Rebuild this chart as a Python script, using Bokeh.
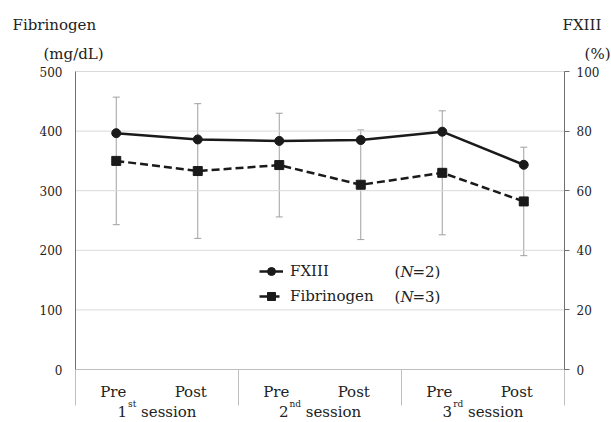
from bokeh.plotting import figure
from bokeh.models import (Range1d, LinearAxis, FixedTicker, Whisker, TeeHead,
                          ColumnDataSource, Legend, LegendItem)
from bokeh.core.properties import value
from bokeh.embed import file_html
from bokeh.resources import INLINE

# ---------------- data ----------------
session_numbers = ["1", "2", "3"]
session_suffixes = ["st", "nd", "rd"]
session_word = "session"
phases = ["Pre", "Post"]
fibrinogen = [350, 333, 343, 310, 330, 282]        # mg/dL (left axis)
fibrinogen_sd = [107, 113, 87, 92, 104, 91]        # error bars
fxiii = [79.3, 77.2, 76.7, 77.0, 79.8, 68.7]        # % (right axis)
left_ticks = [0, 100, 200, 300, 400, 500]
right_ticks = [0, 20, 40, 60, 80, 100]
legend_names = ["FXIII", "Fibrinogen"]
legend_n = ["2", "3"]

# ---------------- style / layout (pixels) ----------------
FONT = "DejaVu Serif"
INK = "#1a1a1a"
TXT = "#222222"
AXIS = "#707070"
LIGHT = "#bfbfbf"
GRID = "#d9d9d9"
ERR = "#a0a0a0"
W, H = 611, 422
AX_LEFT_PX, CAT_PX = 75, 81.5          # left axis position, category width
TOP_PX, ZERO_PX = 71, 369              # pixel rows of 500 and 0
ppu = (ZERO_PX - TOP_PX) / left_ticks[-1]
ratio = right_ticks[-1] / left_ticks[-1]

n_cat = len(session_numbers) * len(phases)
xs = [i + 0.5 for i in range(n_cat)]
phase_labels = phases * len(session_numbers)

x_lo = -AX_LEFT_PX / CAT_PX
x_hi = (W - AX_LEFT_PX) / CAT_PX
y_lo = -(H - ZERO_PX) / ppu
y_hi = left_ticks[-1] + TOP_PX / ppu

p = figure(width=W, height=H, x_range=Range1d(x_lo, x_hi), y_range=Range1d(y_lo, y_hi),
           x_axis_location=None, output_backend="svg", toolbar_location=None,
           min_border=0, min_border_left=0, min_border_right=0,
           min_border_top=0, min_border_bottom=0,
           outline_line_color=None, background_fill_color="white",
           border_fill_color="white")
p.extra_y_ranges = {"pct": Range1d(y_lo * ratio, y_hi * ratio)}
p.xgrid.grid_line_color = None
p.ygrid.grid_line_color = None

# gridlines between the two axes, and the category axis line at 0
p.segment(x0=[0] * (len(left_ticks) - 1), y0=left_ticks[1:],
          x1=[n_cat] * (len(left_ticks) - 1), y1=left_ticks[1:],
          line_color=GRID, line_width=1)
p.segment(x0=[0], y0=[left_ticks[0]], x1=[n_cat], y1=[left_ticks[0]],
          line_color=LIGHT, line_width=1)

# session separators below the category axis
sep_len = 36 / ppu
bounds_x = [2 * k for k in range(len(session_numbers) + 1)]
p.segment(x0=bounds_x, y0=[0] * len(bounds_x), x1=bounds_x,
          y1=[-sep_len] * len(bounds_x), line_color=LIGHT, line_width=1)

# left axis (mg/dL)
ya = p.yaxis[0]
ya.fixed_location = 0
ya.ticker = FixedTicker(ticks=left_ticks)
ya.bounds = (left_ticks[0], left_ticks[-1])
ya.axis_line_color = AXIS
ya.major_tick_out = 0
ya.major_tick_in = 0
ya.minor_tick_line_color = None
ya.major_label_standoff = 13
ya.major_label_text_font = FONT
ya.major_label_text_font_size = "12px"
ya.major_label_text_color = TXT

# right axis (%)
ra = LinearAxis(y_range_name="pct", ticker=FixedTicker(ticks=right_ticks),
                bounds=(right_ticks[0], right_ticks[-1]), fixed_location=n_cat)
ra.axis_line_color = AXIS
ra.major_tick_line_color = AXIS
ra.major_tick_out = 5
ra.major_tick_in = 0
ra.minor_tick_line_color = None
ra.major_label_standoff = 7
ra.major_label_text_font = FONT
ra.major_label_text_font_size = "12px"
ra.major_label_text_color = TXT
p.add_layout(ra, "right")

# error bars (fibrinogen)
err_src = ColumnDataSource(dict(
    x=xs,
    upper=[f + s for f, s in zip(fibrinogen, fibrinogen_sd)],
    lower=[f - s for f, s in zip(fibrinogen, fibrinogen_sd)]))
wh = Whisker(source=err_src, base="x", upper="upper", lower="lower",
             line_color=ERR, line_width=1, level="underlay",
             upper_head=TeeHead(size=7, line_color=ERR, line_width=1),
             lower_head=TeeHead(size=7, line_color=ERR, line_width=1))
p.add_layout(wh)

# series
fx_line = p.line(xs, fxiii, y_range_name="pct", line_color=INK, line_width=2.5)
fx_pts = p.scatter(xs, fxiii, y_range_name="pct", marker="circle", size=9,
                   fill_color=INK, line_color=INK)
fib_line = p.line(xs, fibrinogen, line_color=INK, line_width=2.5, line_dash="8 4")
fib_pts = p.scatter(xs, fibrinogen, marker="square", size=9,
                    fill_color=INK, line_color=INK)

# category labels (Pre / Post)
phase_off = {"Pre": -3, "Post": -7}
p.text(x=xs, y=[0] * n_cat, text=phase_labels,
       x_offset=[phase_off[t] for t in phase_labels], y_offset=22,
       text_font=value(FONT), text_font_size="15px", text_color=TXT,
       text_align="center", text_baseline="alphabetic")

# session labels: number, superscript suffix, word
em = {"s": .513, "t": .402, "n": .640, "d": .640, "r": .478}
MAIN, SUP = 15, 9
DIGIT, SPACE, WORD = 0.636, 0.318, 3.693
sx, stext, ssize, soff, syoff = [], [], [], [], []
for k, (num, suf) in enumerate(zip(session_numbers, session_suffixes)):
    c = 2 * k + 1
    wsup = sum(em[ch] for ch in suf) * SUP
    total = DIGIT * MAIN + 1 + wsup + SPACE * MAIN + WORD * MAIN
    n0 = -total / 2
    for t, size, off, yo in [(num, MAIN, n0, 42),
                             (suf, SUP, n0 + DIGIT * MAIN + 1, 34),
                             (session_word, MAIN, n0 + DIGIT * MAIN + 1 + wsup + SPACE * MAIN, 42)]:
        sx.append(c); stext.append(t)
        ssize.append(f"{size}px"); soff.append(off); syoff.append(yo)
p.text(x=sx, y=[0] * len(sx), text=stext, x_offset=soff, y_offset=syoff,
       text_font=value(FONT), text_font_size=ssize, text_color=TXT,
       text_align="left", text_baseline="alphabetic")

# legend
LEG_LEFT, LEG_TOP, ROW_H, ROW_GAP = 259, 261, 20, 5
leg_h = len(legend_names) * ROW_H + (len(legend_names) - 1) * ROW_GAP
legend = Legend(items=[LegendItem(label=legend_names[0], renderers=[fx_line, fx_pts]),
                       LegendItem(label=legend_names[1], renderers=[fib_line, fib_pts])],
                location=(LEG_LEFT, H - LEG_TOP - leg_h), orientation="vertical",
                padding=0, margin=0, spacing=ROW_GAP, glyph_width=24,
                glyph_height=ROW_H, label_height=ROW_H, label_standoff=7,
                label_text_font=FONT, label_text_font_size="15px",
                label_text_color=TXT, border_line_color=None, background_fill_alpha=0)
p.add_layout(legend)

# "(N=2)" / "(N=3)" beside the legend, with italic N
nx, ntext, nstyle, noff, nyoff = [], [], [], [], []
for r, n in enumerate(legend_n):
    row_center = LEG_TOP + ROW_H / 2 + r * (ROW_H + ROW_GAP)
    for t, st, off in [("(", "normal", 319), ("N", "italic", 325), ("=" + n + ")", "normal", 337)]:
        nx.append(0); ntext.append(t); nstyle.append(st)
        noff.append(off); nyoff.append(row_center - ZERO_PX)
p.text(x=nx, y=[0] * len(nx), text=ntext, x_offset=noff, y_offset=nyoff,
       text_font=value(FONT), text_font_size="15px", text_font_style=nstyle,
       text_color=TXT, text_align="left", text_baseline="middle")

# axis titles, anchored at the top of each axis
tt = [("Fibrinogen", 0, -63, -47, "left"),
      ("(mg/dL)", 0, -32, -18, "left"),
      ("FXIII", n_cat, -2, -47, "left"),
      ("(%)", n_cat, 46, -18, "right")]
p.text(x=[t[1] for t in tt], y=[left_ticks[-1]] * len(tt), text=[t[0] for t in tt],
       x_offset=[t[2] for t in tt], y_offset=[t[3] for t in tt],
       text_align=[t[4] for t in tt], text_font_size="15px",
       text_font=value(FONT), text_color=TXT, text_baseline="alphabetic")

open("out.html", "w").write(file_html(p, INLINE))
